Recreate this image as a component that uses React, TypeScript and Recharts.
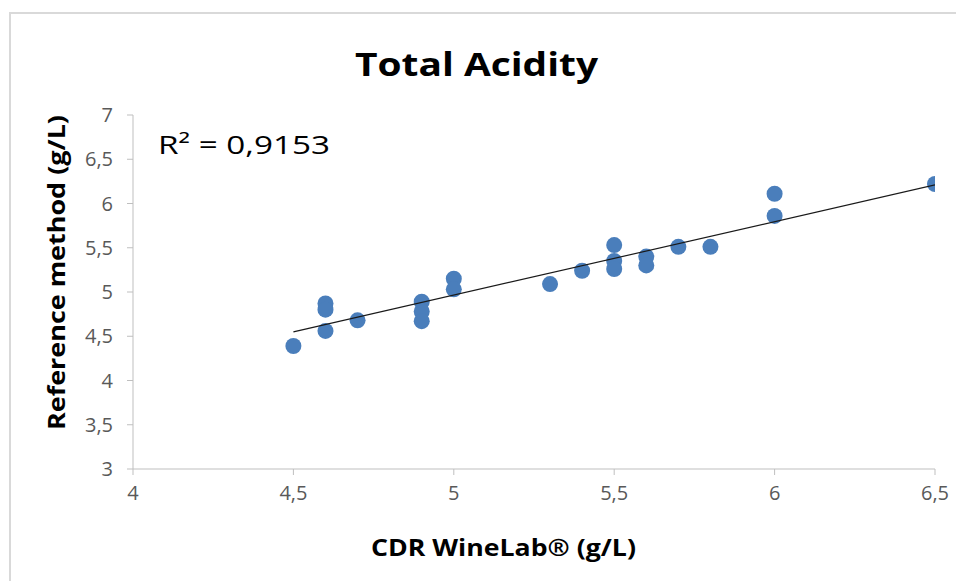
import { Customized, Scatter, ScatterChart, XAxis, YAxis } from "recharts"

const xTicks = [4, 4.5, 5, 5.5, 6, 6.5]
const yTicks = [3, 3.5, 4, 4.5, 5, 5.5, 6, 6.5, 7]

// CDR WineLab readings vs reference method (g/L)
const winelab = [4.5, 4.6, 4.6, 4.6, 4.7, 4.9, 4.9, 4.9, 5.0, 5.0, 5.3, 5.4, 5.5, 5.5, 5.5, 5.6, 5.6, 5.7, 5.8, 6.0, 6.0, 6.5]
const reference = [4.39, 4.87, 4.8, 4.56, 4.68, 4.89, 4.78, 4.67, 5.15, 5.03, 5.09, 5.24, 5.53, 5.35, 5.26, 5.4, 5.3, 5.51, 5.51, 6.11, 5.86, 6.22]

// linear trendline end points
const trendX = [4.5, 6.5]
const trendY = [4.55, 6.21]

const points = winelab.map((x, i) => ({ x, y: reference[i] }))
const trend = trendX.map((x, i) => ({ x, y: trendY[i] }))

const font = "'Open Sans', sans-serif"
const comma = (v: number) => String(v).replace(".", ",")

function Dot(props: { cx?: number; cy?: number }) {
  return <circle cx={props.cx} cy={props.cy} r={8} fill="#4a7ebb" />
}

function Decorations() {
  return (
    <g fontFamily={font}>
      <line x1={10} y1={12} x2={10} y2={581} stroke="#d9d9d9" strokeWidth={2} />
      <line x1={9} y1={13} x2={956} y2={13} stroke="#d9d9d9" strokeWidth={2} />
      <text
        x={355}
        y={76}
        fontSize={32}
        fontWeight={700}
        fill="#000"
        textLength={243}
        lengthAdjust="spacingAndGlyphs"
      >
        Total Acidity
      </text>
      <text x={158} y={154} fontSize={26} fill="#000" textLength={172} lengthAdjust="spacingAndGlyphs">
        R² = 0,9153
      </text>
      <text
        x={371}
        y={556}
        fontSize={23}
        fontWeight={700}
        fill="#000"
        textLength={265}
        lengthAdjust="spacingAndGlyphs"
      >
        CDR WineLab® (g/L)
      </text>
      <text
        transform="translate(65,430) rotate(-90)"
        x={0}
        y={0}
        fontSize={24}
        fontWeight={700}
        fill="#000"
        textLength={315}
        lengthAdjust="spacingAndGlyphs"
      >
        Reference method (g/L)
      </text>
    </g>
  )
}

export default function App() {
  return (
    <div style={{ position: "absolute", left: 0, top: 0, width: 956, height: 581, background: "#fff" }}>
      <ScatterChart width={956} height={581} margin={{ top: 115, right: 21, bottom: 82, left: 73 }}>
        <XAxis
          type="number"
          dataKey="x"
          domain={[4, 6.5]}
          ticks={xTicks}
          tickFormatter={comma}
          stroke="#bfbfbf"
          tickSize={6}
          tickMargin={11}
          tick={{ fill: "#595959", fontSize: 20, fontFamily: font }}
          height={30}
          allowDataOverflow
        />
        <YAxis
          type="number"
          dataKey="y"
          domain={[3, 7]}
          ticks={yTicks}
          tickFormatter={comma}
          stroke="#bfbfbf"
          tickSize={6}
          tickMargin={14}
          tick={{ fill: "#595959", fontSize: 20, fontFamily: font }}
          width={60}
          allowDataOverflow
        />
        <Scatter data={points} shape={Dot} isAnimationActive={false} />
        <Scatter
          data={trend}
          line={{ stroke: "#1a1a1a", strokeWidth: 1.2 }}
          shape={() => <g />}
          isAnimationActive={false}
        />
        <Customized component={Decorations} />
      </ScatterChart>
    </div>
  )
}
